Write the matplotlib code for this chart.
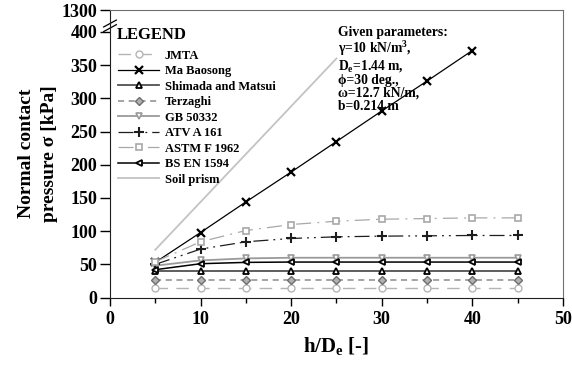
import numpy as np
import matplotlib.pyplot as plt
from matplotlib.ticker import MultipleLocator

plt.rcParams["font.family"] = ["Liberation Serif", "DejaVu Serif"]
plt.rcParams["font.weight"] = "bold"
plt.rcParams["mathtext.default"] = "regular"

# h/De values shared by all methods
h_de = [5, 10, 15, 20, 25, 30, 35, 40, 45]
h_de_ma = [5, 10, 15, 20, 25, 30, 35, 40]
h_de_prism = [5, 10, 15, 20, 25]

jmta = [15, 15, 15, 15, 15, 15, 15, 15, 15]
ma_baosong = [53, 98, 144, 189, 235, 281, 326, 372]
shimada = [40, 40, 40, 40, 40, 40, 40, 40, 40]
terzaghi = [26.5, 26.5, 26.5, 26.5, 26.5, 26.5, 26.5, 26.5, 26.5]
gb50332 = [48, 56, 59, 60, 60, 60, 60, 60, 60]
atv_a161 = [50, 73, 84, 89, 91.5, 92.5, 93, 93.5, 93.5]
astm_f1962 = [54, 84, 101, 110, 115, 118, 119, 120, 120]
bs_en1594 = [42, 51, 53, 53.5, 53.5, 53.5, 53.5, 53.5, 53.5]
soil_prism = [72, 144, 216, 288, 360]

y_ticks = [0, 50, 100, 150, 200, 250, 300, 350, 400, 1300]

params_text = ("Given parameters:\n"
               "\u03b3=10 kN/m$^3$,\n"
               "D$_e$=1.44 m,\n"
               "\u03d5=30 deg.,\n"
               "\u03c9=12.7 kN/m,\n"
               "b=0.214 m")

# squeeze everything above 400 kPa into a short band (broken axis)
BREAK = 400.0
SQUEEZE = 0.0367


def fwd(y):
    y = np.asarray(y, dtype=float)
    return np.where(y <= BREAK, y, BREAK + (y - BREAK) * SQUEEZE)


def inv(y):
    y = np.asarray(y, dtype=float)
    return np.where(y <= BREAK, y, BREAK + (y - BREAK) / SQUEEZE)


fig = plt.figure(figsize=(5.72, 3.65), dpi=100)
ax = fig.add_axes([0.1923, 0.1847, 0.7917, 0.7879])
ax.set_yscale("function", functions=(fwd, inv))

ax.plot(h_de, jmta, color="#b4b4b4", lw=1.0, dashes=(9, 6), marker="o",
        ms=5, mfc="white", mec="#b4b4b4", mew=1.0, label="JMTA")
ax.plot(h_de_ma, ma_baosong, color="black", lw=0.9, marker="x",
        ms=5.5, mew=1.6, label="Ma Baosong")
ax.plot(h_de, shimada, color="#505050", lw=1.3, marker="^",
        ms=4.5, mfc="white", mec="black", mew=1.3, label="Shimada and Matsui")
ax.plot(h_de, terzaghi, color="#8c8c8c", lw=1.1, dashes=(4, 3), marker="D",
        ms=3.8, mfc="#b0b0b0", mec="#6e6e6e", mew=1.0, label="Terzaghi")
ax.plot(h_de, gb50332, color="#9a9a9a", lw=1.3, marker="v",
        ms=4.5, mfc="white", mec="#9a9a9a", mew=1.2, label="GB 50332")
ax.plot(h_de, atv_a161, color="#1e1e1e", lw=0.9, dashes=(12, 4, 1.5, 4, 1.5, 4),
        marker="+", ms=6.5, mew=1.5, label="ATV A 161")
ax.plot(h_de, astm_f1962, color="#a8a8a8", lw=0.9, dashes=(12, 5, 1.5, 5),
        marker="s", ms=5, mfc="white", mec="#a8a8a8", mew=1.2, label="ASTM F 1962")
ax.plot(h_de, bs_en1594, color="black", lw=1.1, marker="<",
        ms=4.5, mfc="white", mec="black", mew=1.3, label="BS EN 1594")
ax.plot(h_de_prism, soil_prism, color="#c3c3c3", lw=1.3, label="Soil prism")

ax.set_xlim(0, 50)
ax.set_ylim(0, 1300)
ax.xaxis.set_major_locator(MultipleLocator(10))
ax.xaxis.set_minor_locator(MultipleLocator(5))
ax.set_yticks(y_ticks)
ax.set_yticklabels([str(v) for v in y_ticks])
ax.yaxis.set_minor_locator(plt.NullLocator())

ax.tick_params(axis="x", which="major", direction="out", length=6, width=1,
               labelsize=13, pad=4)
ax.tick_params(axis="x", which="minor", direction="out", length=3.5, width=1)
ax.tick_params(axis="y", which="major", direction="out", length=7, width=1,
               labelsize=13, pad=2)
for lbl in ax.get_xticklabels() + ax.get_yticklabels():
    lbl.set_fontweight("bold")

for side in ["left", "bottom"]:
    ax.spines[side].set_color("#202020")
for side in ["top", "right"]:
    ax.spines[side].set_color("#707070")

# break marks on the y axis between 400 and 1300
brk_y = 0.945
for dy in (-0.008, 0.008):
    ax.plot([-0.014, 0.014], [brk_y + dy - 0.012, brk_y + dy + 0.012],
            transform=ax.transAxes, color="black", lw=0.9, clip_on=False)

ax.set_xlabel("h/D$_e$ [-]", fontsize=15, fontweight="bold", labelpad=5)
ax.set_ylabel("Normal contact\npressure \u03c3 [kPa]", fontsize=14,
              fontweight="bold", labelpad=3, linespacing=1.45)

ax.text(0.0155, 0.913, "LEGEND", transform=ax.transAxes, fontsize=12,
        fontweight="bold", va="center", ha="left")
ax.legend(loc="upper left", bbox_to_anchor=(0.0177, 0.862), frameon=False,
          handlelength=3.3, labelspacing=0.28, borderaxespad=0, borderpad=0,
          handletextpad=0.45,
          prop={"family": ["Liberation Serif"], "weight": "bold", "size": 9})

ax.text(25.2, 0.944, params_text, transform=ax.get_xaxis_transform(),
        fontsize=9.8, fontweight="bold", va="top", ha="left", linespacing=1.0)

fig.savefig("out.png", dpi=100)
